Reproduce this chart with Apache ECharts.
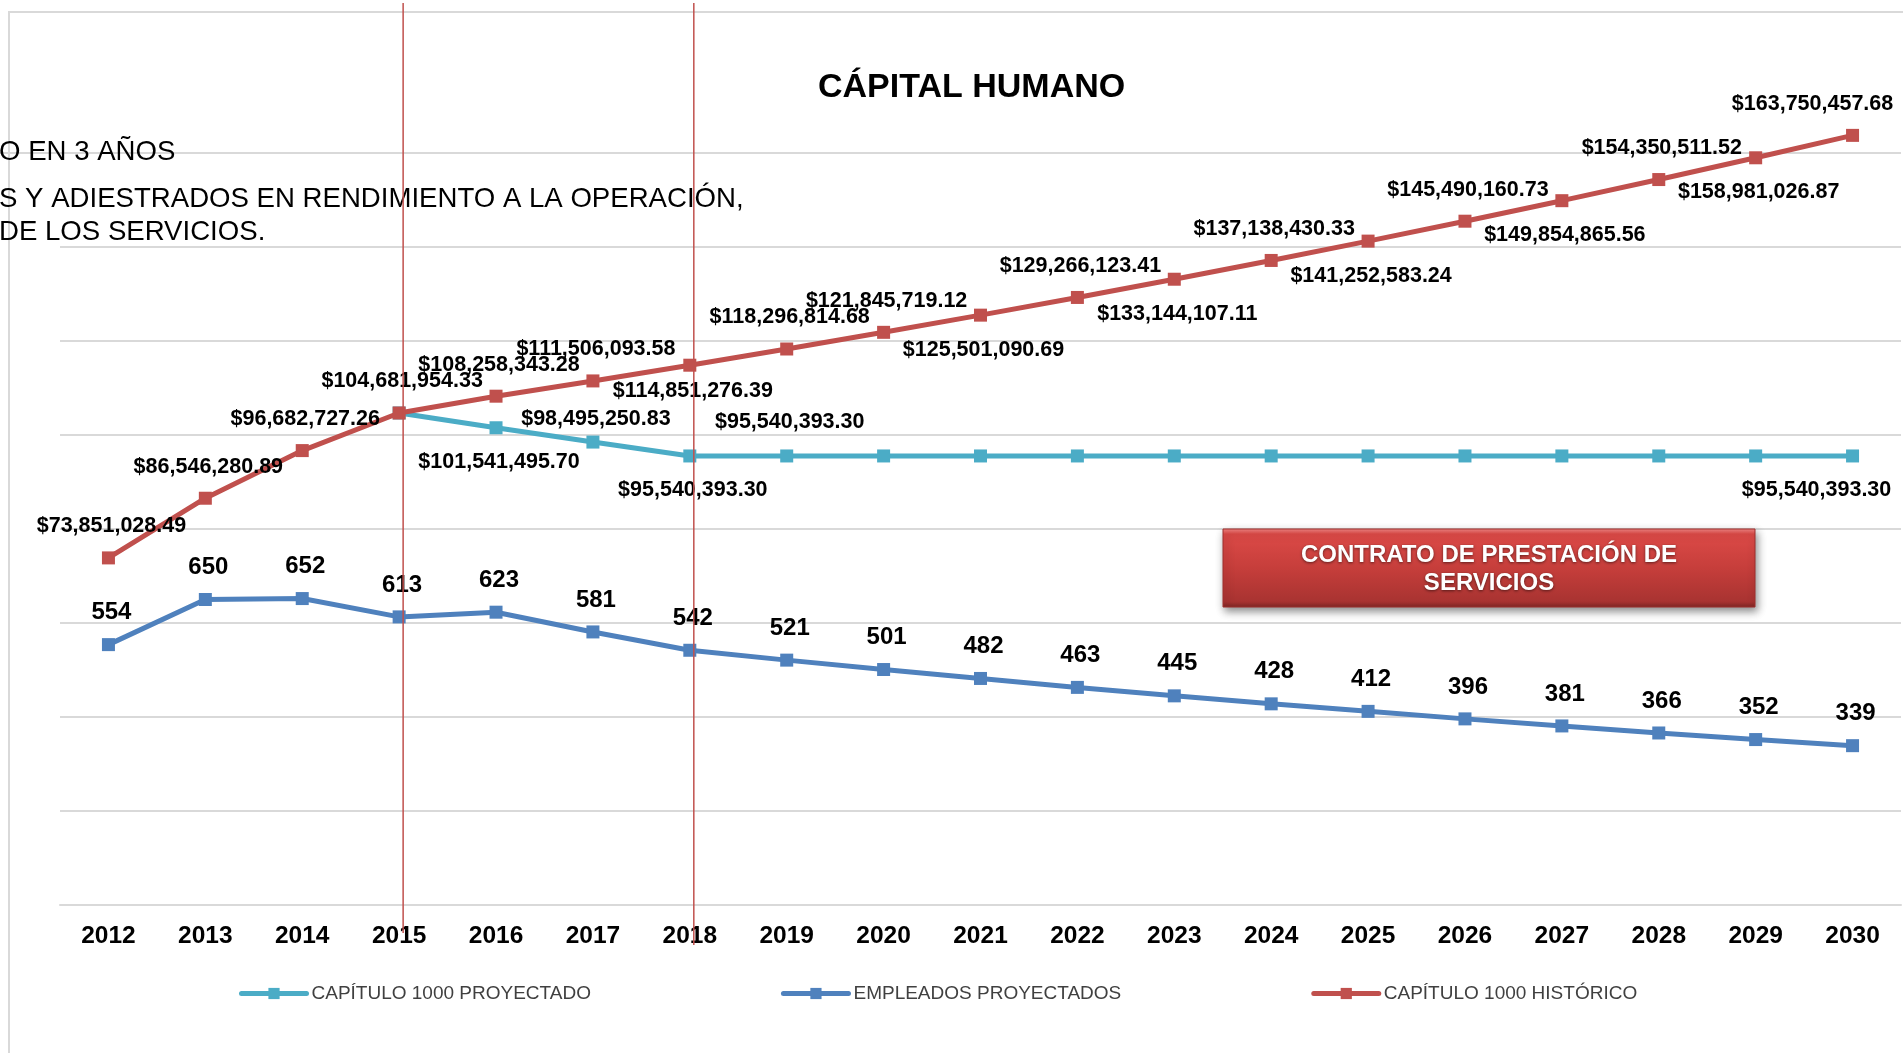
<!DOCTYPE html>
<html>
<head>
<meta charset="utf-8">
<script src="https://cdn.jsdelivr.net/npm/echarts@6/dist/echarts.min.js"></script>
<style>
html,body{margin:0;padding:0;background:#fff;overflow:hidden;}
#main{width:1903px;height:1053px;}
</style>
</head>
<body>
<div id="main"></div>
<script>
// ---------- DATA ----------
const years = ['2012','2013','2014','2015','2016','2017','2018','2019','2020','2021','2022','2023','2024','2025','2026','2027','2028','2029','2030'];

const capituloHistorico = [73851028.49, 86546280.89, 96682727.26, 104681954.33, 108258343.28, 111506093.58, 114851276.39, 118296814.68, 121845719.12, 125501090.69, 129266123.41, 133144107.11, 137138430.33, 141252583.24, 145490160.73, 149854865.56, 154350511.52, 158981026.87, 163750457.68];

const capituloProyectado = [null, null, null, 104681954.33, 101541495.70, 98495250.83, 95540393.30, 95540393.30, 95540393.30, 95540393.30, 95540393.30, 95540393.30, 95540393.30, 95540393.30, 95540393.30, 95540393.30, 95540393.30, 95540393.30, 95540393.30];

const empleadosProyectados = [554, 650, 652, 613, 623, 581, 542, 521, 501, 482, 463, 445, 428, 412, 396, 381, 366, 352, 339];

const seriesNames = ['CAPÍTULO 1000 PROYECTADO', 'EMPLEADOS PROYECTADOS', 'CAPÍTULO 1000 HISTÓRICO'];
const titleText = 'CÁPITAL HUMANO';
const boxText = ['CONTRATO DE PRESTACIÓN DE', 'SERVICIOS'];
const noteLines = ['O EN 3 AÑOS', 'S Y ADIESTRADOS EN RENDIMIENTO A LA OPERACIÓN,', 'DE LOS SERVICIOS.'];
const markedYears = ['2015', '2018'];

const moneyAxis = { min: 0, max: 180000000, interval: 20000000 };
const peopleAxis = { min: 0, max: 1800, interval: 200 };

// label placement (style config, kept apart from values)
const historicoBelow = ['2018', '2021', '2023', '2025', '2027', '2029'];
const proyectadoShown = { '2016': 'bottom', '2017': 'top', '2018': 'bottom', '2019': 'top', '2030': 'bottom' };

// ---------- HELPERS ----------
const FONT = 'Arial, "Liberation Sans", sans-serif';
function money(v) {
  const parts = Number(v).toFixed(2).split('.');
  return '$' + parts[0].replace(/\B(?=(\d{3})+(?!\d))/g, ',') + '.' + parts[1];
}
const labelBase = { show: true, fontFamily: FONT, fontWeight: 'bold', fontSize: 21.5, color: '#000' };

const historicoData = capituloHistorico.map((v, i) => {
  const y = years[i];
  const below = historicoBelow.indexOf(y) >= 0;
  return {
    value: v,
    label: {
      position: below ? 'bottom' : 'top',
      distance: below ? (y === '2018' ? 8 : 17) : 14,
      offset: y === '2030' ? [-40, 0] : [3, 0]
    }
  };
});

const proyectadoData = capituloProyectado.map((v, i) => {
  if (v === null) return '-';
  const y = years[i];
  const pos = proyectadoShown[y];
  return {
    value: v,
    label: {
      show: !!pos,
      position: pos || 'top',
      distance: pos === 'bottom' ? 17 : (y === '2017' ? 5 : 16),
      offset: y === '2030' ? [-36, 0] : [3, 0]
    }
  };
});

const splitColors = [];
for (let k = 0; k <= (moneyAxis.max - moneyAxis.min) / moneyAxis.interval; k++) splitColors.push('#d9d9d9');
splitColors[splitColors.length - 1] = 'rgba(0,0,0,0)';

// ---------- CHART ----------
const chart = echarts.init(document.getElementById('main'), null, { renderer: 'canvas' });

chart.setOption({
  animation: false,
  backgroundColor: '#fff',
  title: {
    text: titleText,
    left: 818,
    top: 71,
    padding: 0,
    textStyle: { fontFamily: FONT, fontWeight: 'bold', fontSize: 34, color: '#000' }
  },
  legend: {
    data: seriesNames,
    left: 234,
    top: 979,
    itemWidth: 65,
    itemHeight: 14,
    itemGap: 190,
    lineStyle: { width: 5, cap: 'round' },
    textStyle: { fontFamily: FONT, fontSize: 19, color: '#404040' }
  },
  grid: { left: 60, right: 2, top: 59, bottom: 148, containLabel: false },
  xAxis: {
    type: 'category',
    data: years,
    boundaryGap: true,
    axisLine: { lineStyle: { color: '#d9d9d9', width: 2 } },
    axisTick: { show: false },
    axisLabel: { interval: 0, margin: 19, fontFamily: FONT, fontWeight: 'bold', fontSize: 24.5, color: '#000' },
    splitLine: { show: false }
  },
  yAxis: [
    {
      type: 'value', min: moneyAxis.min, max: moneyAxis.max, interval: moneyAxis.interval,
      axisLabel: { show: false }, axisLine: { show: false }, axisTick: { show: false },
      splitLine: { show: true, lineStyle: { color: splitColors, width: 2 } }
    },
    {
      type: 'value', min: peopleAxis.min, max: peopleAxis.max, interval: peopleAxis.interval,
      show: false, splitLine: { show: false }
    }
  ],
  series: [
    {
      name: seriesNames[0], type: 'line', yAxisIndex: 0, data: proyectadoData,
      color: '#4BACC6', symbol: 'rect', symbolSize: 13,
      lineStyle: { width: 5, color: '#4BACC6' }, itemStyle: { color: '#4BACC6' },
      label: Object.assign({}, labelBase, { formatter: p => money(p.value) }),
      z: 2
    },
    {
      name: seriesNames[1], type: 'line', yAxisIndex: 1, data: empleadosProyectados,
      color: '#4F81BD', symbol: 'rect', symbolSize: 13,
      lineStyle: { width: 5, color: '#4F81BD' }, itemStyle: { color: '#4F81BD' },
      label: Object.assign({}, labelBase, { fontSize: 24, position: 'top', distance: 13.5, offset: [3, 0], formatter: p => String(p.value) }),
      z: 3
    },
    {
      name: seriesNames[2], type: 'line', yAxisIndex: 0, data: historicoData,
      color: '#C0504D', symbol: 'rect', symbolSize: 13,
      lineStyle: { width: 5, color: '#C0504D' }, itemStyle: { color: '#C0504D' },
      label: Object.assign({}, labelBase, { formatter: p => money(p.value) }),
      z: 4
    }
  ]
});

// ---------- ANNOTATIONS ----------
const graphics = [];
graphics.push({
  type: 'rect', z: 0, silent: true,
  shape: { x: 9, y: 12, width: 2000, height: 2000 },
  style: { fill: 'none', stroke: '#d9d9d9', lineWidth: 2 }
});
graphics.push({
  type: 'line', z: 0, silent: true,
  shape: { x1: 0, y1: 153, x2: 62, y2: 153 },
  style: { stroke: '#d9d9d9', lineWidth: 2 }
});
const noteY = [152, 199, 232];
noteLines.forEach((t, i) => {
  graphics.push({
    type: 'text', z: 50, silent: true, x: -1, y: noteY[i],
    style: { text: t, font: '27.6px ' + FONT, fill: '#000', align: 'left', verticalAlign: 'middle' }
  });
});
graphics.push({
  type: 'group', x: 1223, y: 529, z: 60,
  children: [
    {
      type: 'rect', shape: { x: 0, y: 0, width: 532, height: 78 },
      style: {
        fill: { type: 'linear', x: 0, y: 0, x2: 0, y2: 1, colorStops: [
          { offset: 0, color: '#f38a86' }, { offset: 0.07, color: '#dc4a47' },
          { offset: 0.5, color: '#c63e3b' }, { offset: 0.93, color: '#a83331' }, { offset: 1, color: '#7c2523' }
        ] },
        stroke: '#9e2f2d', lineWidth: 1,
        shadowBlur: 8, shadowOffsetX: 2, shadowOffsetY: 4, shadowColor: 'rgba(0,0,0,0.45)'
      }
    },
    {
      type: 'text', x: 266, y: 26,
      style: { text: boxText[0], font: 'bold 24px ' + FONT, fill: '#fff', align: 'center', verticalAlign: 'middle',
        textShadowColor: 'rgba(0,0,0,0.55)', textShadowBlur: 3, textShadowOffsetY: 1 }
    },
    {
      type: 'text', x: 266, y: 54,
      style: { text: boxText[1], font: 'bold 24px ' + FONT, fill: '#fff', align: 'center', verticalAlign: 'middle',
        textShadowColor: 'rgba(0,0,0,0.55)', textShadowBlur: 3, textShadowOffsetY: 1 }
    }
  ]
});
const lineEnds = [933, 945];
markedYears.forEach((yr, i) => {
  const px = chart.convertToPixel({ xAxisIndex: 0 }, yr) + 4;
  graphics.push({
    type: 'line', z: 100, silent: true,
    shape: { x1: px, y1: 3, x2: px, y2: lineEnds[i] },
    style: { stroke: '#C0504D', lineWidth: 1.5 }
  });
});
chart.setOption({ graphic: graphics });
</script>
</body>
</html>
